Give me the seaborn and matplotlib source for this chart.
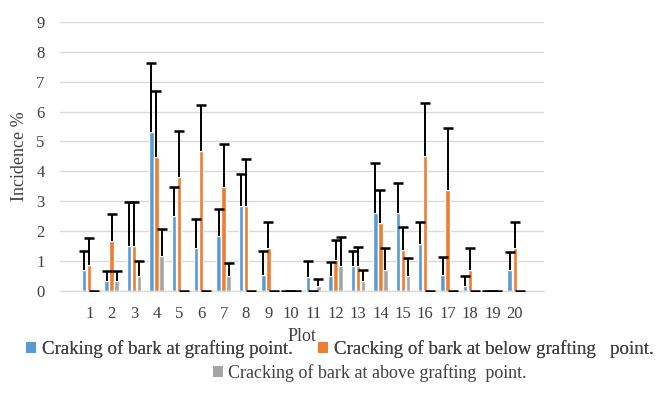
import numpy as np
import pandas as pd
import matplotlib
matplotlib.use("Agg")
import matplotlib.pyplot as plt
from matplotlib.patches import Patch
import seaborn as sns

plots = [str(i) for i in range(1, 21)]
series = [
    "Craking of bark at grafting point.",
    "Cracking of bark at below grafting   point.",
    "Cracking of bark at above grafting  point.",
]
colors = ["#5B9BD5", "#ED7D31", "#A5A5A5"]

# mean incidence (%) per plot
grafting = [0.70, 0.33, 1.51, 5.30, 2.49, 1.45, 1.82, 2.85, 0.54, 0.00,
            0.46, 0.51, 0.84, 2.62, 2.59, 1.56, 0.54, 0.17, 0.00, 0.70]
below = [0.87, 1.67, 1.51, 4.48, 3.81, 4.67, 3.48, 2.85, 1.42, 0.00,
         0.00, 1.04, 0.84, 2.27, 1.37, 4.50, 3.37, 0.70, 0.00, 1.42]
above = [0.00, 0.33, 0.50, 1.17, 0.00, 0.00, 0.50, 0.00, 0.00, 0.00,
         0.15, 0.84, 0.33, 0.70, 0.50, 0.00, 0.00, 0.00, 0.00, 0.00]

# upper error (standard error) per plot
grafting_err = [0.62, 0.34, 1.47, 2.33, 0.97, 0.95, 0.92, 1.07, 0.81, 0.00,
                0.54, 0.45, 0.51, 1.67, 1.03, 0.76, 0.59, 0.34, 0.00, 0.61]
below_err = [0.89, 0.90, 1.47, 2.22, 1.53, 1.56, 1.44, 1.56, 0.90, 0.00,
             0.00, 0.67, 0.63, 1.11, 0.76, 1.79, 2.07, 0.74, 0.00, 0.87]
above_err = [0.00, 0.34, 0.50, 0.90, 0.00, 0.00, 0.43, 0.00, 0.00, 0.00,
             0.24, 0.96, 0.37, 0.72, 0.61, 0.00, 0.00, 0.00, 0.00, 0.00]

means = [grafting, below, above]
errs = [grafting_err, below_err, above_err]

df = pd.DataFrame({
    "Plot": plots * 3,
    "Series": np.repeat(series, len(plots)),
    "Incidence": np.concatenate(means),
})

sns.set_theme(style="white")
plt.rcParams["font.family"] = ["Liberation Serif", "DejaVu Serif"]

fig = plt.figure(figsize=(6.66, 4.12), dpi=100)
ax = fig.add_axes([0.090, 0.294, 0.727, 0.653])

sns.barplot(data=df, x="Plot", y="Incidence", hue="Series", order=plots,
            hue_order=series, palette=colors, width=0.68, gap=0.12,
            errorbar=None, legend=False, saturation=1, ax=ax, zorder=2)

for cont, err in zip(ax.containers, errs):
    xs = [p.get_x() + p.get_width() / 2 for p in cont.patches]
    ys = [p.get_height() for p in cont.patches]
    _, caps, _ = ax.errorbar(xs, ys, yerr=[np.zeros(len(err)), err], fmt="none",
                             ecolor="black", elinewidth=1.4, capsize=3.6,
                             capthick=1.8, zorder=3)
    caps[0].set_visible(False)

ax.set_ylim(0, 9)
ax.set_yticks(range(0, 10))
ax.yaxis.grid(True, color="#D9D9D9", linewidth=1)
ax.set_axisbelow(True)
for side in ["left", "right", "top"]:
    ax.spines[side].set_visible(False)
ax.spines["bottom"].set_color("#D9D9D9")
ax.spines["bottom"].set_linewidth(1)
ax.tick_params(axis="both", length=0, labelsize=12, colors="#404040")
ax.tick_params(axis="y", pad=11)
ax.tick_params(axis="x", pad=11)
ax.set_xlabel("Plot", fontsize=13, color="#404040", labelpad=4)
ax.set_ylabel("Incidence %", fontsize=13, color="#404040", labelpad=6)

h = [Patch(facecolor=c, edgecolor="none") for c in colors]
leg1 = fig.legend(h[:2], series[:2], loc="center", bbox_to_anchor=(0.510, 0.153),
                  ncol=2, frameon=False, fontsize=13.6, handlelength=0.55,
                  handleheight=0.55, handletextpad=0.3, columnspacing=1.3,
                  labelcolor="#404040")
leg2 = fig.legend(h[2:], series[2:], loc="center", bbox_to_anchor=(0.555, 0.095),
                  frameon=False, fontsize=13, handlelength=0.55, handleheight=0.55,
                  handletextpad=0.3, labelcolor="#404040")
fig.add_artist(leg1)

fig.savefig("out.png", dpi=100)
